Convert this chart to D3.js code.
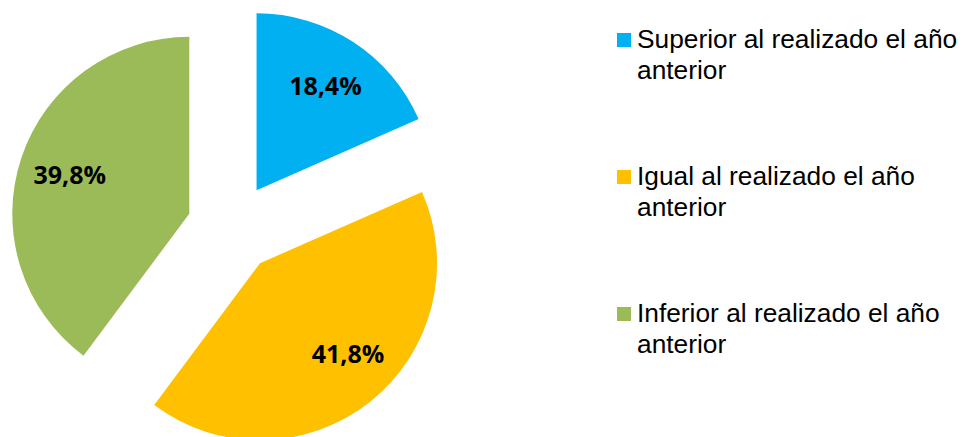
<!DOCTYPE html>
<html>
<head>
<meta charset="utf-8">
<script src="https://cdn.jsdelivr.net/npm/d3@7"></script>
<style>
  html, body { margin: 0; padding: 0; background: #fff; }
  svg { display: block; }
</style>
</head>
<body>
<svg id="chart" width="963" height="437"></svg>
<script>
// Data
const categories = [
    "Superior al realizado el año anterior",
    "Igual al realizado el año anterior",
    "Inferior al realizado el año anterior"
];
const legendLines = [
    ["Superior al realizado el año", "anterior"],
    ["Igual al realizado el año", "anterior"],
    ["Inferior al realizado el año", "anterior"]
];
const values = [18.4, 41.8, 39.8];
const labels = ["18,4%", "41,8%", "39,8%"];
const colors = ["#00B0F0", "#FFC000", "#9BBB59"];

const svg = d3.select("#chart");

/* ------------------------------------------------------------------
   Pie (exploded)
------------------------------------------------------------------ */

const CX = 232, CY = 228;
const RADIUS = 177;
const EXPLODE = 45;
const LABEL_R = 126;
const LABEL_TURN = [0, -0.1, 0]; // small angular nudge of each data label (radians)

const pie = d3.pie().sort(null).value(d => d);
const arcs = pie(values);

const arc = d3.arc().innerRadius(0).outerRadius(RADIUS);

const pieGroup = svg.append("g")
    .attr("transform", `translate(${CX},${CY})`);

const slices = pieGroup.selectAll("g.slice")
    .data(arcs)
    .enter()
    .append("g")
    .attr("class", "slice")
    .attr("transform", d => {
        const mid = (d.startAngle + d.endAngle) / 2;
        return `translate(${Math.sin(mid) * EXPLODE},${-Math.cos(mid) * EXPLODE})`;
    });

slices.append("path")
    .attr("d", arc)
    .attr("fill", (d, i) => colors[i]);

const labelAngle = (d, i) => (d.startAngle + d.endAngle) / 2 + LABEL_TURN[i];

slices.append("text")
    .text((d, i) => labels[i])
    .attr("x", (d, i) => Math.sin(labelAngle(d, i)) * LABEL_R)
    .attr("y", (d, i) => -Math.cos(labelAngle(d, i)) * LABEL_R)
    .attr("text-anchor", "middle")
    .attr("dominant-baseline", "central")
    .attr("font-family", "'Open Sans', sans-serif")
    .attr("font-weight", "bold")
    .attr("font-size", "25px")
    .attr("fill", "#000");

/* ------------------------------------------------------------------
   Legend
------------------------------------------------------------------ */

const legendY = d3.scalePoint()
    .domain(d3.range(categories.length))
    .range([48, 322]);

const legend = svg.append("g")
    .selectAll("g")
    .data(categories)
    .enter()
    .append("g")
    .attr("transform", (d, i) => `translate(617,${legendY(i)})`);

legend.append("rect")
    .attr("x", 0)
    .attr("y", -15)
    .attr("width", 14)
    .attr("height", 14)
    .attr("fill", (d, i) => colors[i]);

legend.append("text")
    .attr("font-family", "'Liberation Sans', Arial, sans-serif")
    .attr("font-size", "26.3px")
    .attr("fill", "#000")
    .selectAll("tspan")
    .data((d, i) => legendLines[i])
    .enter()
    .append("tspan")
    .attr("x", 20)
    .attr("y", (d, j) => j * 31)
    .text(d => d);
</script>
</body>
</html>
